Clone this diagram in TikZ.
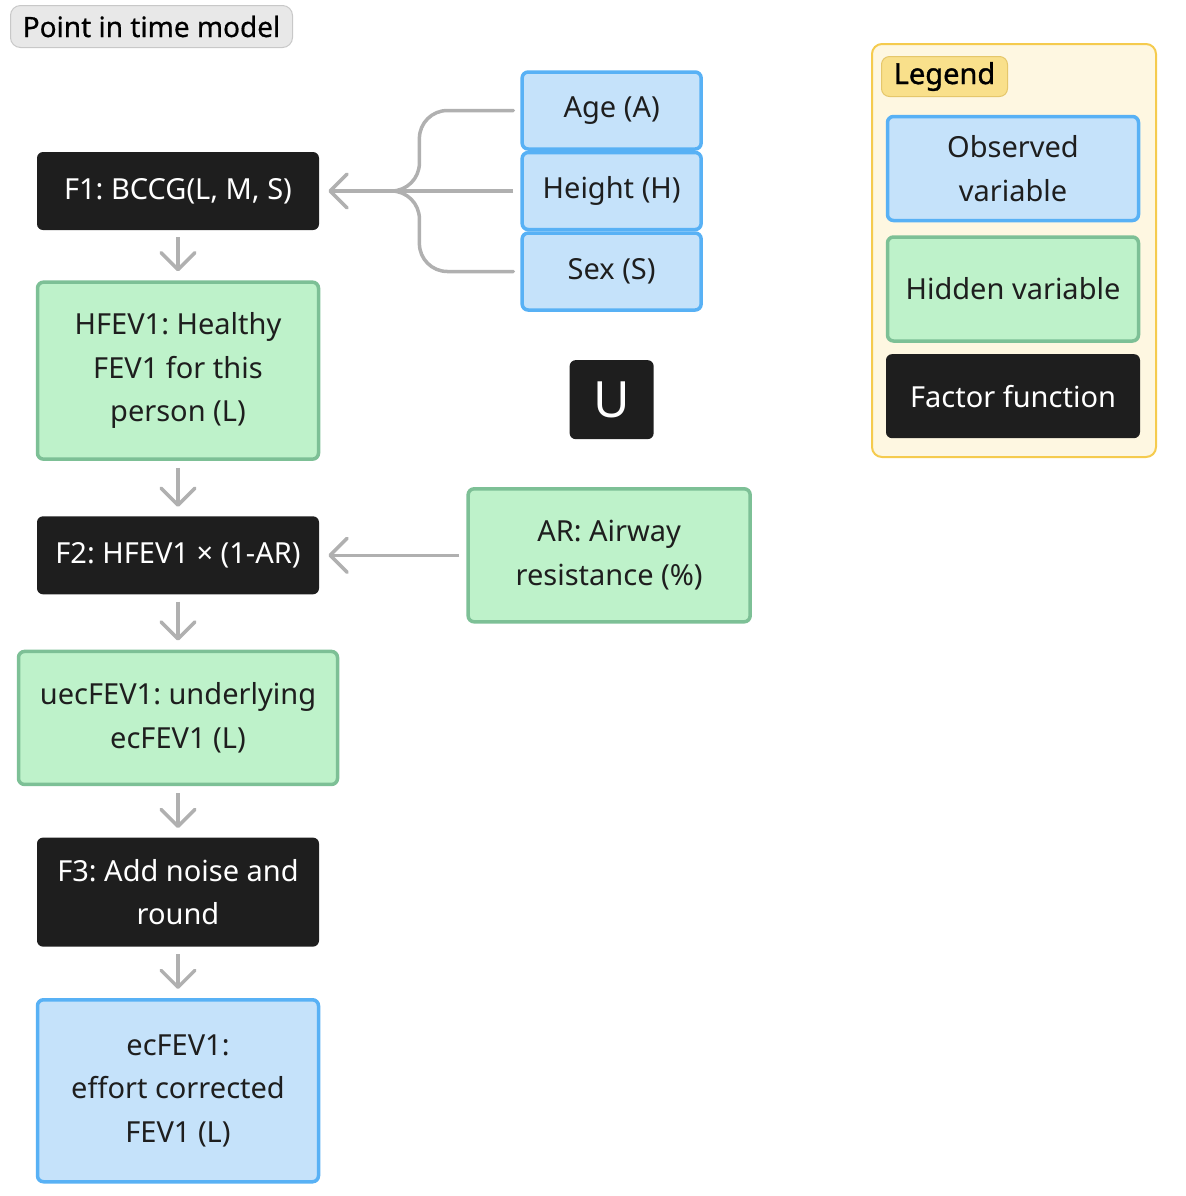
\documentclass[tikz,border=0pt]{standalone}
\usepackage{fontspec}
\setmainfont{Noto Sans}
\newfontfamily\semib[FakeBold=1.2]{Noto Sans}
\newfontfamily\medf[FakeBold=0.6]{Noto Sans}
\usetikzlibrary{arrows.meta, positioning}
\definecolor{blk}{RGB}{30,30,30}
\definecolor{obsf}{RGB}{197,226,250}
\definecolor{obsd}{RGB}{88,177,245}
\definecolor{hidf}{RGB}{190,242,202}
\definecolor{hidd}{RGB}{125,192,150}
\definecolor{arg}{RGB}{176,176,176}
\definecolor{legf}{RGB}{254,247,225}
\definecolor{legd}{RGB}{245,203,78}
\definecolor{lblf}{RGB}{249,224,139}
\definecolor{lbld}{RGB}{229,199,107}
\definecolor{ttlf}{RGB}{232,232,232}
\definecolor{ttld}{RGB}{200,200,200}
\tikzset{
  fac/.style={rectangle, rounded corners=3pt, fill=blk, text=white, minimum width=141pt,
              minimum height=39pt, align=center, inner sep=0pt, font=\fontsize{14.5}{21.75}\selectfont},
  % variavel observada (azul)
  obs/.style={rectangle, rounded corners=3pt, draw=obsd, line width=1.75pt, fill=obsf, text=blk,
              align=center, inner sep=0pt, font=\fontsize{14.5}{21.75}\selectfont},
  % variavel escondida (verde)
  hid/.style={rectangle, rounded corners=3pt, draw=hidd, line width=1.75pt, fill=hidf, text=blk,
              align=center, inner sep=0pt, font=\fontsize{14.5}{21.75}\selectfont},
  ar/.style={-{Straight Barb[length=8.5pt, width=17pt, round]}, line width=1.75pt, draw=arg,
             shorten <=3.5pt, shorten >=4.5pt},
  tree/.style={line width=1.75pt, draw=arg, rounded corners=14pt, line cap=round},
  ttl/.style={rectangle, rounded corners=5pt, draw=ttld, line width=0.5pt, fill=ttlf, text=black,
              minimum width=141pt, minimum height=21pt, inner sep=0pt, font=\fontsize{14}{16}\selectfont\medf},
  leg/.style={rectangle, rounded corners=5pt, draw=legd, line width=1pt, fill=legf,
              minimum width=142pt, minimum height=206.5pt},
  lbl/.style={rectangle, rounded corners=4pt, draw=lbld, line width=0.5pt, fill=lblf, text=black,
              minimum width=63pt, minimum height=20pt, inner sep=0pt, font=\fontsize{14.5}{16}\selectfont\semib}
}

\begin{document}
\frenchspacing
\begin{tikzpicture}[x=0.5pt, y=-0.5pt]
    \useasboundingbox (0,0) rectangle (1186,1196);

    \node[ttl] (title) at (151.5,26.5) {Point in time model};

    % --- cadeia principal ---
    \node[fac] (f1) at (178,191) {F1: BCCG(L, M, S)};
    \node[hid, below=25pt of f1, minimum width=140.5pt, minimum height=88.5pt] (hfev)
      {HFEV1: Healthy\\FEV1 for this\\person (L)};
    \node[fac, below=27.5pt of hfev] (f2) {F2: HFEV1 × (1-AR)};
    \node[hid, below=27.5pt of f2, minimum width=159.5pt, minimum height=66.5pt] (uec)
      {uecFEV1: underlying\\ecFEV1 (L)};
    \node[fac, below=25.5pt of uec, minimum height=54.5pt] (f3) {F3: Add noise and\\round};
    \node[obs, below=25.5pt of f3, minimum width=140.5pt, minimum height=91pt] (ec)
      {ecFEV1:\\effort corrected\\FEV1 (L)};

    % --- entradas de F1 ---
    \node[obs, right=100.5pt of f1, minimum width=89.5pt, minimum height=38.5pt] (hgt) {Height (H)};
    \node[obs, above=0pt of hgt, minimum width=89.5pt, minimum height=38.5pt] (age) {Age (A)};
    \node[obs, below=0pt of hgt, minimum width=89.5pt, minimum height=38.5pt] (sex) {Sex (S)};
    \node[fac, below=24pt of sex, minimum width=42pt, minimum height=39.5pt,
          font=\fontsize{25}{30}\selectfont] (u) {U};
    \node[hid, right=73.5pt of f2, minimum width=141pt, minimum height=66.5pt] (ar)
      {AR: Airway\\resistance (\%)};

    % --- conectores ---
    \draw[tree] ([xshift=-3.5pt]age.west) -| ([xshift=-50.5pt]hgt.west) -- ([xshift=-80pt]hgt.west);
    \draw[tree] ([xshift=-3.5pt]sex.west) -| ([xshift=-50.5pt]hgt.west) -- ([xshift=-80pt]hgt.west);
    \draw[ar] (hgt) -- (f1);
    \draw[ar] (f1) -- (hfev);
    \draw[ar] (hfev) -- (f2);
    \draw[ar] (ar) -- (f2);
    \draw[ar] (f2) -- (uec);
    \draw[ar] (uec) -- (f3);
    \draw[ar] (f3) -- (ec);

    % --- legenda ---
    \node[leg] (legbox) at (1014,250.5) {};
    \node[lbl] (leglbl) at (944.5,76.5) {Legend};
    \node[obs, minimum width=125.5pt, minimum height=52pt] (legobs) at (1013,168.5) {Observed\\variable};
    \node[hid, below=6.5pt of legobs, minimum width=125.5pt, minimum height=52pt] (leghid) {Hidden variable};
    \node[fac, below=5.5pt of leghid, minimum width=127pt, minimum height=42pt] (legfac) {Factor function};
  \end{tikzpicture}
\end{document}
